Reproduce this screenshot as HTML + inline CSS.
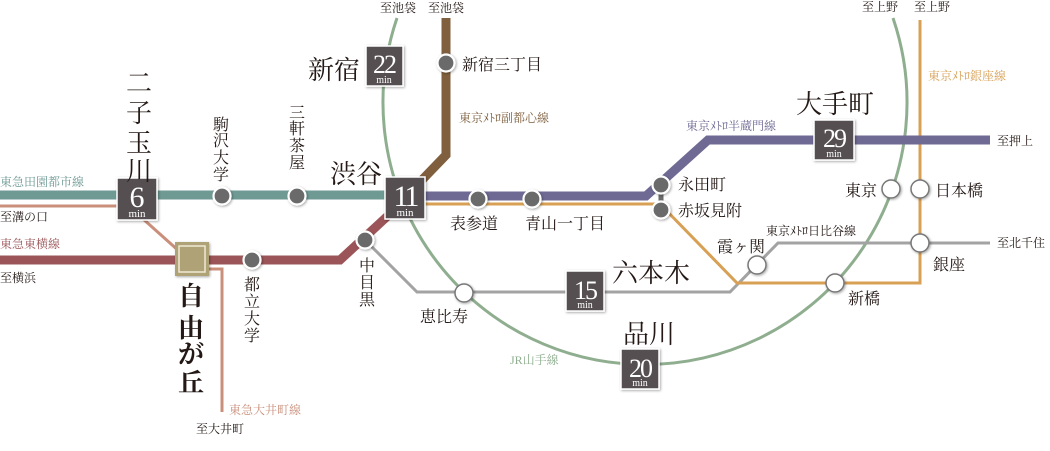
<!DOCTYPE html>
<html><head><meta charset="utf-8"><style>
html,body{margin:0;padding:0;background:#fff;}
svg{display:block;}
text{font-family:"Liberation Serif","Noto Serif CJK SC","Noto Sans CJK JP",serif;fill:#231815;}
.s{font-family:"Liberation Sans","Noto Sans CJK JP",sans-serif;}
.num{font-family:"Liberation Serif",serif;fill:#fff;text-anchor:middle;}
</style></head><body>
<svg width="1050" height="451" viewBox="0 0 1050 451" xmlns="http://www.w3.org/2000/svg">
<defs>
<filter id="sh" x="-20%" y="-20%" width="150%" height="150%"><feDropShadow dx="1" dy="1" stdDeviation="1.2" flood-color="#000" flood-opacity="0.35"/></filter>
</defs>
<path d="M397,18 A262,262 0 1 0 893,18" fill="none" stroke="#8fae8f" stroke-width="3"/>
<polyline points="0,206 117,206" fill="none" stroke="#c98f7b" stroke-width="3"/>
<polyline points="142,218 180,252" fill="none" stroke="#c98f7b" stroke-width="3"/>
<polyline points="205,269 222,269 222,412" fill="none" stroke="#c98f7b" stroke-width="3"/>
<polyline points="365,240 417,292 730,292 778,243 990,243" fill="none" stroke="#a3a3a3" stroke-width="3"/>
<polyline points="420,204 660,204 737,283 920,283 920,20" fill="none" stroke="#d7a055" stroke-width="3"/>
<line x1="0" y1="195" x2="405" y2="195" stroke="#6f9a94" stroke-width="9"/>
<polyline points="0,260 340,260 405,200" fill="none" stroke="#9b5558" stroke-width="9"/>
<polyline points="446,18 446,155 420,182 410,190" fill="none" stroke="#7f5f3e" stroke-width="9"/>
<polyline points="410,196 646,196 708,140 990,140" fill="none" stroke="#6f6a93" stroke-width="9"/>
<line x1="661" y1="186" x2="661" y2="210" stroke="#6b6b6b" stroke-width="5"/>
<g fill="#6b6b6b" stroke="#fff" stroke-width="2.2" filter="url(#sh)">
<circle cx="222" cy="196" r="8.5"/><circle cx="297" cy="196" r="8.5"/>
<circle cx="252" cy="260" r="8.5"/><circle cx="365" cy="240" r="8.5"/>
<circle cx="446" cy="63" r="8.5"/><circle cx="478" cy="199" r="8.5"/>
<circle cx="532" cy="199" r="8.5"/><circle cx="661" cy="185" r="8.5"/>
<circle cx="661" cy="210" r="8.5"/>
</g>
<g fill="#fff" stroke="#777" stroke-width="1.5" filter="url(#sh)">
<circle cx="464" cy="293" r="9"/><circle cx="757" cy="265" r="9"/>
<circle cx="891" cy="189" r="9"/><circle cx="920" cy="189" r="9"/>
<circle cx="920" cy="243" r="9"/><circle cx="835" cy="283" r="9"/>
</g>
<rect x="175" y="242" width="34" height="34" fill="#b0a277" filter="url(#sh)"/>
<rect x="179" y="246" width="26" height="26" fill="none" stroke="#efe9d4" stroke-width="1.5"/>
<g filter="url(#sh)" fill="#545051" stroke="#fff" stroke-width="1.5">
<rect x="117" y="178" width="40" height="42"/>
<rect x="385" y="177" width="40" height="42"/>
<rect x="366" y="46" width="37" height="40"/>
<rect x="566" y="271" width="38" height="40"/>
<rect x="621" y="349" width="38" height="40"/>
<rect x="814" y="120" width="40" height="40"/>
</g>
<g>
<text x="137" y="207" font-size="30" class="num">6</text><text x="137" y="217" font-size="11" class="num">min</text>
<text x="405" y="206" font-size="30" class="num" letter-spacing="-3">11</text><text x="405" y="216" font-size="11" class="num">min</text>
<text x="384" y="73" font-size="26" class="num" letter-spacing="-2">22</text><text x="384" y="83" font-size="10" class="num">min</text>
<text x="585" y="299" font-size="26" class="num" letter-spacing="-2">15</text><text x="585" y="308" font-size="10" class="num">min</text>
<text x="640" y="377" font-size="26" class="num" letter-spacing="-2">20</text><text x="640" y="386" font-size="10" class="num">min</text>
<text x="834" y="147" font-size="26" class="num" letter-spacing="-2">29</text><text x="834" y="157" font-size="10" class="num">min</text>
</g>
<g font-size="26">
<text x="308" y="79">新宿</text>
<text x="330" y="183">渋谷</text>
<text x="796" y="113">大手町</text>
<text x="612" y="282">六本木</text>
<text x="623" y="343">品川</text>
<text x="126" y="92">二</text><text x="126" y="122">子</text><text x="126" y="152">玉</text><text x="126" y="180">川</text>
<text x="178" y="305" font-weight="bold">自</text><text x="178" y="337" font-weight="bold">由</text><text x="178" y="363" font-weight="bold">が</text><text x="178" y="392" font-weight="bold">丘</text>
</g>
<g font-size="16">
<text x="213" y="130">駒</text><text x="213" y="146">沢</text><text x="213" y="163">大</text><text x="213" y="180">学</text>
<text x="289" y="118">三</text><text x="289" y="134">軒</text><text x="289" y="151">茶</text><text x="289" y="168">屋</text>
<text x="244" y="290">都</text><text x="244" y="307">立</text><text x="244" y="324">大</text><text x="244" y="341">学</text>
<text x="359" y="271">中</text><text x="359" y="288">目</text><text x="359" y="305">黒</text>
<text x="462" y="70">新宿三丁目</text>
<text x="450" y="229">表参道</text>
<text x="525" y="229">青山一丁目</text>
<text x="678" y="190">永田町</text>
<text x="678" y="216">赤坂見附</text>
<text x="717" y="252">霞ヶ関</text>
<text x="420" y="322">恵比寿</text>
<text x="845" y="196">東京</text>
<text x="935" y="196">日本橋</text>
<text x="933" y="270">銀座</text>
<text x="848" y="304">新橋</text>
</g>
<g font-size="12" class="s">
<text x="0" y="186" style="fill:#6f9a94">東急田園都市線</text>
<text x="0" y="221">至溝の口</text>
<text x="0" y="248" style="fill:#9b5558">東急東横線</text>
<text x="0" y="282">至横浜</text>
<text x="229" y="414" style="fill:#c98f7b">東急大井町線</text>
<text x="196" y="433">至大井町</text>
<text x="380" y="12">至池袋</text><text x="428" y="12">至池袋</text>
<text x="459" y="122" style="fill:#7f5f3e">東京ﾒﾄﾛ副都心線</text>
<text x="686" y="130" style="fill:#6f6a93">東京ﾒﾄﾛ半蔵門線</text>
<text x="997" y="145">至押上</text>
<text x="862" y="11">至上野</text><text x="914" y="11">至上野</text>
<text x="928" y="80" style="fill:#d7a055">東京ﾒﾄﾛ銀座線</text>
<text x="766" y="235">東京ﾒﾄﾛ日比谷線</text>
<text x="997" y="247">至北千住</text>
<text x="510" y="364" style="fill:#8fae8f">JR山手線</text>
</g>
</svg>
</body></html>
